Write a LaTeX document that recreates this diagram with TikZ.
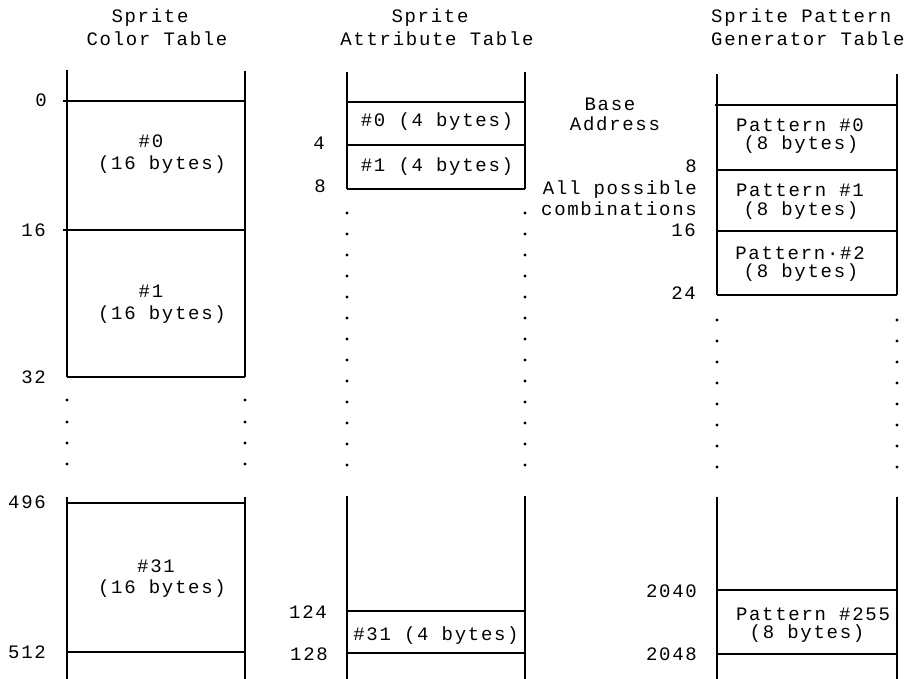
\documentclass[tikz,border=0pt]{standalone}
\usepackage{fontspec}
\setmonofont[LetterSpace=9]{Liberation Mono}
\begin{document}
\begin{tikzpicture}[x=1pt,y=-1pt,
  txt/.style={inner sep=0pt,anchor=base,font=\ttfamily\fontsize{19}{22}\selectfont},
  lbl/.style={inner sep=0pt,anchor=base east,font=\ttfamily\fontsize{19}{22}\selectfont},
  hdr/.style={inner sep=0pt,anchor=base,font=\ttfamily\fontsize{19}{22}\selectfont},
  hdrl/.style={inner sep=0pt,anchor=base west,font=\ttfamily\fontsize{19}{22}\selectfont},
  vline/.style={line width=2.2pt},
  hline/.style={line width=2.6pt},
  dotmark/.style={fill=black}]
\useasboundingbox (0,0) rectangle (906,679);

% ---------- Column 1: Sprite Color Table ----------
\node[hdr] (h1a) at (150,23) {Sprite};
\node[hdr] (h1b) at (157,46) {Color Table};
\coordinate (c1lt) at (67,70);  \coordinate (c1lm) at (67,377);
\coordinate (c1rt) at (245,71); \coordinate (c1rm) at (245,377);
\coordinate (c1lb) at (67,497); \coordinate (c1le) at (67,679);
\coordinate (c1rb) at (245,497); \coordinate (c1re) at (245,679);
\draw[vline] (c1lt) -- (c1lm);
\draw[vline] (c1rt) -- (c1rm);
\draw[vline] (c1lb) -- (c1le);
\draw[vline] (c1rb) -- (c1re);
\draw[hline] (63,101) -- (245,101);
\draw[hline] (63,230) -- (245,230);
\draw[hline] (67,377) -- (245,377);
\draw[hline] (67,503) -- (245,503);
\draw[hline] (67,652) -- (245,652);
\foreach \yy in {400,422,443,464} {
  \fill[dotmark] (67,\yy) circle (1.7pt);
  \fill[dotmark] (245,\yy) circle (1.7pt);
}
\node[lbl] (l1a) at (47,107) {0};
\node[lbl] (l1b) at (46,237) {16};
\node[lbl] (l1c) at (46,384) {32};
\node[lbl] (l1d) at (46,508) {496};
\node[lbl] (l1e) at (46,658) {512};
\node[txt] (t1a) at (151,148) {\#0};
\node[txt] (t1b) at (162,170) {(16 bytes)};
\node[txt] (t1c) at (151,298) {\#1};
\node[txt] (t1d) at (162,320) {(16 bytes)};
\node[txt] (t1e) at (156,572) {\#31};
\node[txt] (t1f) at (162,593) {(16 bytes)};

% ---------- Column 2: Sprite Attribute Table ----------
\node[hdr] (h2a) at (430,23) {Sprite};
\node[hdr] (h2b) at (437,46) {Attribute Table};
\draw[vline] (347,72) -- (347,189);
\draw[vline] (525,72) -- (525,189);
\draw[vline] (347,496) -- (347,679);
\draw[vline] (525,496) -- (525,679);
\draw[hline] (347,102) -- (525,102);
\draw[hline] (347,145) -- (525,145);
\draw[hline] (347,189) -- (525,189);
\draw[hline] (347,611) -- (525,611);
\draw[hline] (347,653) -- (525,653);
\foreach \k in {0,...,12} {
  \fill[dotmark] (347,213+21*\k) circle (1.7pt);
  \fill[dotmark] (525,213+21*\k) circle (1.7pt);
}
\node[lbl] (l2a) at (325,150) {4};
\node[lbl] (l2b) at (326,193) {8};
\node[lbl] (l2c) at (327,618) {124};
\node[lbl] (l2d) at (328,660) {128};
\node[txt] (t2a) at (437,127) {\#0 (4 bytes)};
\node[txt] (t2b) at (437,172) {\#1 (4 bytes)};
\node[txt] (t2c) at (436,640) {\#31 (4 bytes)};

% ---------- Middle labels ----------
\node[txt] (base) at (610,111) {Base};
\node[txt] (addr) at (615,131) {Address};
\node[lbl] (l3a) at (697,173) {8};
\node[lbl] (allp) at (697,195) {All possible};
\node[lbl] (comb) at (697,216) {combinations};
\node[lbl] (l3b) at (696,237) {16};
\node[lbl] (l3c) at (696,300) {24};

% ---------- Column 3: Sprite Pattern Generator Table ----------
\node[hdrl] (h3a) at (711,23) {Sprite Pattern};
\node[hdrl] (h3b) at (711,46) {Generator Table};
\draw[vline] (717,74) -- (717,295);
\draw[vline] (897,74) -- (897,295);
\draw[vline] (717,497) -- (717,679);
\draw[vline] (897,497) -- (897,679);
\draw[hline] (715,105) -- (897,105);
\draw[hline] (717,170) -- (897,170);
\draw[hline] (717,231) -- (897,231);
\draw[hline] (717,295) -- (897,295);
\draw[hline] (717,590) -- (897,590);
\draw[hline] (717,654) -- (897,654);
\foreach \k in {0,...,7} {
  \fill[dotmark] (717,320+21*\k) circle (1.7pt);
  \fill[dotmark] (897,320+21*\k) circle (1.7pt);
}
\node[lbl] (l3d) at (697,597) {2040};
\node[lbl] (l3e) at (697,660) {2048};
\node[txt] (t3a) at (800,132) {Pattern \#0};
\node[txt] (t3b) at (801,150) {(8 bytes)};
\node[txt] (t3c) at (800,197) {Pattern \#1};
\node[txt] (t3d) at (801,216) {(8 bytes)};
\node[txt] (t3e) at (800,260) {Pattern·\#2};
\node[txt] (t3f) at (801,278) {(8 bytes)};
\node[txt] (t3g) at (813,620) {Pattern \#255};
\node[txt] (t3h) at (807,638) {(8 bytes)};
\end{tikzpicture}
\end{document}
